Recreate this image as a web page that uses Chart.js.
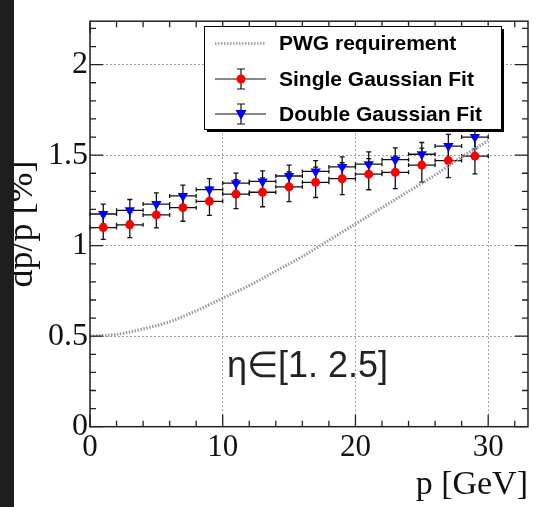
<!DOCTYPE html>
<html>
<head>
<meta charset="utf-8">
<script src="https://cdn.jsdelivr.net/npm/chart.js@4/dist/chart.umd.min.js"></script>
<style>
  html, body { margin: 0; padding: 0; background: #fff; }
  #wrap { position: relative; width: 534px; height: 507px; }
  #strip { position: absolute; left: 0; top: 0; width: 14px; height: 507px; background: #1e1e1e; }
</style>
</head>
<body>
<div id="wrap">
  <canvas id="myChart" width="534" height="507"></canvas>
  <div id="strip"></div>
</div>
<script>
// momentum bins and resolution values
var pValues = [1, 3, 5, 7, 9, 11, 13, 15, 17, 19, 21, 23, 25, 27, 29];
var pErrors = [1, 1, 1, 1, 1, 1, 1, 1, 1, 1, 1, 1, 1, 1, 1];
var singleGauss = [1.10, 1.115, 1.17, 1.21, 1.245, 1.285, 1.295, 1.325, 1.35, 1.37, 1.395, 1.405, 1.445, 1.47, 1.495];
var singleErr = [0.065, 0.07, 0.072, 0.075, 0.078, 0.08, 0.08, 0.082, 0.084, 0.088, 0.086, 0.09, 0.094, 0.094, 0.098];
var doubleGauss = [1.175, 1.195, 1.23, 1.275, 1.31, 1.345, 1.355, 1.385, 1.41, 1.435, 1.45, 1.475, 1.505, 1.55, 1.6];
var doubleErr = [0.055, 0.06, 0.062, 0.06, 0.06, 0.056, 0.058, 0.06, 0.06, 0.055, 0.068, 0.065, 0.065, 0.065, 0.065];

// PWG requirement curve
var pwgP = [0, 2, 4, 6, 8, 10, 12, 14, 16, 18, 20, 22, 24, 26, 28, 30];
var pwgReq = [0.5, 0.51, 0.54, 0.58, 0.64, 0.71, 0.78, 0.86, 0.94, 1.03, 1.12, 1.21, 1.30, 1.39, 1.49, 1.58];

var xTicks = [0, 10, 20, 30];
var yTicks = [0, 0.5, 1, 1.5, 2];

var legendLabels = ['PWG requirement', 'Single Gaussian Fit', 'Double Gaussian Fit'];
var etaLabel = 'η∈[1. 2.5]';

function toPoints(xs, ys) {
    return xs.map(function (x, i) { return {x: x, y: ys[i]}; });
}

function drawErrors(ctx, xs, ys, ex, ey, xScale, yScale) {
    ctx.save();
    ctx.strokeStyle = '#111';
    ctx.lineWidth = 1.3;
    for (var i = 0; i < xs.length; i++) {
        var px = xScale.getPixelForValue(xs[i]);
        var py = yScale.getPixelForValue(ys[i]);
        var x0 = xScale.getPixelForValue(xs[i] - ex[i]);
        var x1 = xScale.getPixelForValue(xs[i] + ex[i]);
        var y0 = yScale.getPixelForValue(ys[i] - ey[i]);
        var y1 = yScale.getPixelForValue(ys[i] + ey[i]);
        ctx.beginPath();
        ctx.moveTo(x0, py); ctx.lineTo(x1, py);
        ctx.moveTo(x0, py - 2); ctx.lineTo(x0, py + 2);
        ctx.moveTo(x1, py - 2); ctx.lineTo(x1, py + 2);
        ctx.moveTo(px, y0); ctx.lineTo(px, y1);
        ctx.moveTo(px - 2.5, y0); ctx.lineTo(px + 2.5, y0);
        ctx.moveTo(px - 2.5, y1); ctx.lineTo(px + 2.5, y1);
        ctx.stroke();
    }
    ctx.restore();
}

var rootStyle = {
    id: 'rootStyle',
    beforeDatasetsDraw: function (chart) {
        var ctx = chart.ctx, xs = chart.scales.x, ys = chart.scales.y;
        drawErrors(ctx, pValues, singleGauss, pErrors, singleErr, xs, ys);
        drawErrors(ctx, pValues, doubleGauss, pErrors, doubleErr, xs, ys);
    },
    afterDatasetsDraw: function (chart) {
        var ctx = chart.ctx, xs = chart.scales.x, ys = chart.scales.y;
        var a = chart.chartArea;
        ctx.save();
        // frame with inside ticks
        ctx.strokeStyle = '#222';
        ctx.lineWidth = 1.5;
        ctx.strokeRect(a.left, a.top, a.right - a.left, a.bottom - a.top);
        ctx.lineWidth = 1.3;
        ctx.beginPath();
        for (var v = 0; v <= 32; v += 2) {
            var px = xs.getPixelForValue(v);
            var len = (v % 10 === 0) ? 12 : 6;
            ctx.moveTo(px, a.bottom); ctx.lineTo(px, a.bottom - len);
            ctx.moveTo(px, a.top); ctx.lineTo(px, a.top + len);
        }
        for (var k = 0; k <= 22; k++) {
            var py = ys.getPixelForValue(k / 10);
            var l2 = (k % 5 === 0) ? 13 : 6;
            ctx.moveTo(a.left, py); ctx.lineTo(a.left + l2, py);
            ctx.moveTo(a.right, py); ctx.lineTo(a.right - l2, py);
        }
        ctx.stroke();

        // legend box with shadow
        var bx = 204, by = 26, bw = 297, bh = 103;
        ctx.fillStyle = '#000';
        ctx.fillRect(bx + 3, by + 3, bw, bh);
        ctx.fillStyle = '#fff';
        ctx.fillRect(bx, by, bw, bh);
        ctx.strokeStyle = '#000';
        ctx.lineWidth = 1;
        ctx.strokeRect(bx + 0.5, by + 0.5, bw, bh);

        var rows = [43.5, 79, 114];
        ctx.strokeStyle = '#999';
        ctx.lineWidth = 2.5;
        ctx.setLineDash([1.5, 1.5]);
        ctx.beginPath();
        ctx.moveTo(215, rows[0]); ctx.lineTo(266, rows[0]);
        ctx.stroke();
        ctx.setLineDash([]);

        ctx.strokeStyle = '#111';
        ctx.lineWidth = 1.2;
        for (var r = 1; r < 3; r++) {
            var cy = rows[r], cx = 241;
            ctx.beginPath();
            ctx.moveTo(215, cy); ctx.lineTo(266, cy);
            ctx.moveTo(cx, cy - 10); ctx.lineTo(cx, cy + 10);
            ctx.moveTo(cx - 4, cy - 10); ctx.lineTo(cx + 4, cy - 10);
            ctx.moveTo(cx - 4, cy + 10); ctx.lineTo(cx + 4, cy + 10);
            ctx.stroke();
        }
        ctx.fillStyle = '#ff0000';
        ctx.beginPath();
        ctx.arc(241, rows[1], 4.5, 0, Math.PI * 2);
        ctx.fill();
        ctx.fillStyle = '#0000ff';
        ctx.beginPath();
        ctx.moveTo(235.5, rows[2] - 4); ctx.lineTo(246.5, rows[2] - 4); ctx.lineTo(241, rows[2] + 6);
        ctx.closePath();
        ctx.fill();

        ctx.fillStyle = '#000';
        ctx.font = 'bold 21px "Liberation Sans", Arial, sans-serif';
        ctx.textBaseline = 'middle';
        ctx.textAlign = 'left';
        for (var j = 0; j < legendLabels.length; j++) {
            ctx.fillText(legendLabels[j], 279, rows[j] + 1);
        }

        // eta range label
        ctx.fillStyle = '#222';
        ctx.font = '36px "Liberation Sans", Arial, sans-serif';
        ctx.textBaseline = 'alphabetic';
        ctx.fillText(etaLabel, 227, 377);
        ctx.restore();
    }
};

var ctx1 = document.getElementById('myChart').getContext('2d');
var myChart = new Chart(ctx1, {
    type: 'scatter',
    data: {
        datasets: [{
            label: legendLabels[0],
            data: toPoints(pwgP, pwgReq),
            showLine: true,
            borderColor: '#9a9a9a',
            borderWidth: 3,
            borderDash: [1.5, 1.5],
            cubicInterpolationMode: 'monotone',
            pointRadius: 0
        }, {
            label: legendLabels[1],
            data: toPoints(pValues, singleGauss),
            pointStyle: 'circle',
            pointRadius: 4.5,
            backgroundColor: '#ff0000',
            borderColor: '#ff0000',
            borderWidth: 0
        }, {
            label: legendLabels[2],
            data: toPoints(pValues, doubleGauss),
            pointStyle: 'triangle',
            rotation: 180,
            pointRadius: 6,
            backgroundColor: '#0000ff',
            borderColor: '#0000ff',
            borderWidth: 0
        }]
    },
    options: {
        responsive: false,
        animation: false,
        layout: {
            padding: {left: 0, right: 4.7, top: 10, bottom: 0}
        },
        plugins: {
            legend: { display: false },
            tooltip: { enabled: false }
        },
        scales: {
            x: {
                type: 'linear',
                min: 0,
                max: 33,
                afterFit: function (scale) { scale.height = 80.3; },
                afterBuildTicks: function (scale) {
                    scale.ticks = xTicks.map(function (v) { return {value: v}; });
                },
                ticks: {
                    autoSkip: false,
                    maxRotation: 0,
                    padding: 3,
                    color: '#111',
                    callback: function (value) { return String(value); },
                    font: { family: '"Liberation Serif", "Times New Roman", serif', size: 31 }
                },
                grid: { color: '#a0a0a0', lineWidth: 1, drawTicks: false },
                border: { display: false, dash: [2, 2] },
                title: {
                    display: true,
                    text: 'p [GeV]',
                    align: 'end',
                    color: '#111',
                    padding: {top: 0, bottom: 2},
                    font: { family: '"Liberation Serif", "Times New Roman", serif', size: 34 }
                }
            },
            y: {
                type: 'linear',
                min: 0,
                max: 2.24,
                afterFit: function (scale) { scale.width = 90; },
                afterBuildTicks: function (scale) {
                    scale.ticks = yTicks.map(function (v) { return {value: v}; });
                },
                ticks: {
                    autoSkip: false,
                    padding: 2,
                    color: '#111',
                    callback: function (value) { return String(value); },
                    font: { family: '"Liberation Serif", "Times New Roman", serif', size: 32 }
                },
                grid: { color: '#a0a0a0', lineWidth: 1, drawTicks: false },
                border: { display: false, dash: [2, 2] },
                title: {
                    display: true,
                    text: 'dp/p [%]',
                    align: 'center',
                    color: '#111',
                    padding: {top: 1, bottom: 0},
                    font: { family: '"Liberation Serif", "Times New Roman", serif', size: 36 }
                }
            }
        }
    },
    plugins: [rootStyle]
});
</script>
</body>
</html>
